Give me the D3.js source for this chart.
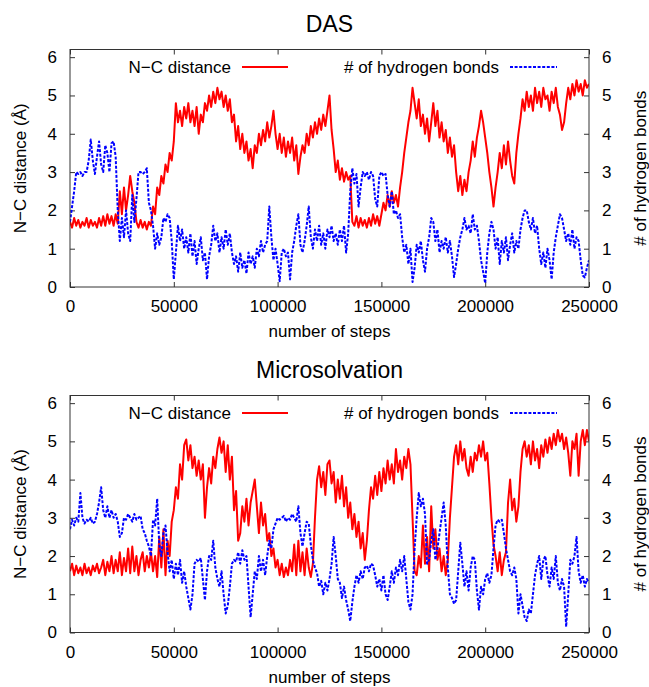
<!DOCTYPE html>
<html>
<head>
<meta charset="utf-8">
<script src="https://cdn.jsdelivr.net/npm/d3@7"></script>
<style>
  html, body { margin: 0; padding: 0; background: #fff; }
  svg { display: block; font-family: "Liberation Sans", Arial, Helvetica, sans-serif; }
</style>
</head>
<body>
<svg id="chart" width="649" height="687"></svg>
<script>
// ---------------- data (sampled every 1000 steps, 0 .. 250000) ----------------
const stepSize = 1000;
const xTicks = [0, 50000, 100000, 150000, 200000, 250000];
const yTicks = [0, 1, 2, 3, 4, 5, 6];
const panelTitles = ["DAS", "Microsolvation"];
const seriesNames = ["N\u2212C distance", "# of hydrogen bonds"];

const dasNC = [
  1.7,1.55,1.8,1.6,1.75,1.55,1.7,1.6,1.8,1.55,
  1.75,1.6,1.7,1.55,1.8,1.6,1.85,1.6,1.9,1.65,
  1.85,1.6,1.9,1.65,2.5,1.9,2.6,2.0,2.4,2.9,
  2.5,2.2,1.7,1.55,1.75,1.55,1.7,1.5,1.7,1.6,
  2.1,1.9,2.6,2.4,2.9,2.7,3.2,3.0,3.5,3.3,
  3.8,4.8,4.3,4.6,4.2,4.7,4.4,4.8,4.3,4.6,
  4.2,4.7,4.0,4.5,4.3,4.8,4.6,5.0,4.7,5.1,
  4.8,5.2,4.9,5.1,4.7,5.0,4.6,4.9,4.3,4.5,
  3.8,4.2,3.6,4.0,3.5,3.8,3.3,3.6,3.1,3.7,
  3.5,4.0,3.7,4.1,3.8,4.3,3.9,4.2,4.6,4.0,
  3.6,4.0,3.5,3.9,3.4,3.8,3.5,3.9,3.3,3.7,
  2.95,3.4,3.7,3.5,4.0,3.7,4.2,3.9,4.3,4.0,
  4.4,4.1,4.5,4.2,4.6,5.0,4.1,3.6,3.0,3.3,
  2.8,3.1,2.75,3.0,2.8,2.9,1.7,1.6,1.85,1.55,
  1.8,1.6,1.75,1.55,1.8,1.6,1.9,1.65,1.85,1.6,
  1.9,2.2,2.0,2.4,2.1,2.5,2.2,2.4,2.1,2.6,
  3.0,3.5,3.9,4.3,4.6,5.2,4.8,4.4,4.9,4.2,
  4.5,4.0,4.4,3.8,4.3,4.8,4.2,4.6,3.9,4.3,
  3.8,4.1,3.5,3.9,3.4,3.7,3.0,2.5,2.9,2.4,
  2.8,2.5,3.0,3.3,3.8,3.4,3.9,4.2,4.6,4.3,
  3.9,3.5,3.0,2.6,2.1,2.6,3.0,3.5,3.1,3.7,
  3.2,3.8,3.3,2.9,2.7,3.5,4.0,4.4,4.9,4.6,
  5.1,4.7,5.0,4.6,5.2,4.8,5.1,4.7,5.2,4.9,
  5.0,4.6,5.1,4.8,5.2,4.7,4.5,4.1,4.3,4.8,
  5.2,4.9,5.3,5.0,5.4,5.1,5.3,5.0,5.4,5.2,
  5.3
];

const dasHB = [
  1.7,2.1,2.5,3.0,2.95,3.0,2.9,3.0,3.0,3.3,
  3.85,3.3,2.95,3.4,3.8,3.2,3.0,3.7,3.5,3.0,
  3.75,3.8,3.4,2.0,1.2,1.8,1.3,2.0,1.4,1.2,
  2.4,1.7,2.3,3.0,3.0,2.95,3.0,3.1,2.2,2.0,
  1.6,1.0,1.4,1.1,1.3,1.8,1.7,1.9,1.8,1.2,
  0.2,0.9,1.6,1.2,1.5,1.0,1.3,0.9,1.4,0.8,
  1.2,0.6,1.0,1.3,0.7,0.9,0.2,0.8,1.1,1.6,
  1.2,1.4,0.9,1.3,1.0,1.5,1.1,1.4,0.9,0.6,
  0.8,0.4,0.9,0.5,0.7,0.35,0.9,0.6,0.8,0.5,
  1.0,0.8,1.2,0.9,1.1,1.2,2.1,1.3,0.7,1.0,
  0.6,0.15,0.9,1.0,0.8,0.9,0.2,0.9,1.2,1.6,
  1.9,1.1,0.9,1.2,1.6,2.1,1.3,1.0,1.5,1.2,
  1.6,1.1,1.4,1.0,1.5,1.3,1.6,1.2,1.4,1.1,
  1.5,1.2,1.6,0.9,1.4,2.5,3.1,2.7,2.95,2.1,
  2.6,3.0,2.9,3.0,2.8,3.0,2.9,2.3,2.1,2.9,
  3.0,2.9,2.95,2.4,2.1,2.5,1.9,2.0,1.8,1.9,
  1.3,0.9,1.1,0.6,1.0,0.13,0.5,1.1,0.9,1.2,
  0.7,0.4,1.0,1.3,1.8,1.7,1.2,1.5,0.9,1.2,
  1.0,1.3,0.9,1.2,0.8,0.26,0.6,1.0,1.3,1.5,
  1.8,1.5,1.6,1.4,1.9,1.5,1.6,1.2,0.7,0.4,
  0.1,0.9,1.4,1.7,1.5,1.0,1.3,0.6,1.2,0.9,
  1.3,0.7,1.1,1.4,0.9,1.2,1.0,1.5,1.8,2.0,
  2.0,1.7,1.5,1.8,1.4,1.6,1.0,0.6,0.9,0.5,
  1.0,0.7,0.2,0.9,1.3,1.6,1.9,1.8,1.5,1.2,
  1.4,1.1,1.5,1.0,1.3,1.2,0.7,0.3,0.25,0.5,
  0.7
];

const microNC = [
  1.6,1.8,1.5,1.75,1.55,1.7,1.5,1.8,1.55,1.7,
  1.5,1.75,1.6,1.8,1.55,1.7,1.9,1.5,1.85,1.6,
  2.0,1.55,1.9,1.6,2.1,1.5,1.95,1.6,2.2,1.55,
  2.25,1.6,2.0,1.5,1.9,2.1,1.6,2.0,1.7,2.1,
  1.6,2.0,1.45,2.5,1.7,2.7,1.5,2.4,2.0,2.9,
  3.2,3.8,3.5,4.4,4.0,4.9,5.05,4.5,4.9,4.3,
  4.6,4.1,4.5,4.0,4.4,3.0,3.8,4.3,3.9,4.6,
  4.3,4.8,5.1,4.7,5.0,4.2,4.9,4.0,4.6,3.2,
  3.7,2.4,2.6,3.3,2.9,3.5,2.8,3.4,3.7,4.0,
  3.3,2.6,3.4,2.8,3.1,2.4,2.6,2.0,2.2,1.7,
  1.9,1.5,1.8,1.45,1.7,1.5,1.9,1.6,2.3,1.5,
  2.4,1.6,2.1,1.5,2.2,1.7,1.45,1.8,3.0,4.0,
  4.35,3.8,4.2,3.6,4.4,4.5,3.9,4.2,3.4,4.0,
  3.5,4.1,3.3,3.8,3.0,3.4,2.7,3.1,2.5,2.9,
  2.2,2.6,1.9,2.4,3.2,3.8,3.5,4.1,3.6,4.2,
  3.7,4.3,3.9,4.5,4.0,4.4,3.9,4.8,4.2,4.5,
  4.0,4.6,4.3,4.8,4.4,3.0,1.6,1.5,2.0,1.7,
  2.8,1.8,2.5,1.6,3.3,2.2,2.7,1.9,2.2,1.6,
  2.0,1.5,1.9,3.0,3.8,4.6,4.9,4.4,5.0,4.5,
  4.8,4.3,4.1,4.6,4.2,4.7,4.5,4.9,4.6,5.0,
  4.5,4.7,3.9,3.0,2.3,2.0,1.6,2.1,1.5,1.9,
  2.1,3.4,4.0,3.2,3.5,2.9,3.3,4.2,4.8,5.0,
  4.6,4.9,4.4,5.0,4.5,4.8,4.3,4.9,4.6,5.05,
  4.7,5.1,4.8,5.2,4.9,5.3,5.0,5.2,4.8,5.1,
  4.7,4.1,5.0,4.8,5.2,4.1,5.0,5.3,4.9,5.3,
  5.0
];

const microHB = [
  2.7,2.95,2.8,3.0,2.9,3.65,3.0,2.85,2.95,2.9,
  3.0,2.85,2.9,3.1,3.4,3.8,3.2,3.0,3.3,3.0,
  3.2,3.0,3.1,2.9,2.5,2.6,3.0,2.95,3.1,3.0,
  2.9,3.1,2.95,3.0,3.05,2.7,2.6,2.4,2.25,2.0,
  2.95,2.8,3.5,2.3,2.0,2.6,2.8,2.1,1.6,1.9,
  1.4,1.8,1.5,1.9,1.3,1.6,1.2,0.9,0.6,1.0,
  1.8,1.9,1.85,1.95,1.4,0.85,1.6,2.0,1.9,2.4,
  1.7,1.4,1.2,1.6,1.0,0.5,0.7,1.2,1.8,1.9,
  1.85,2.1,1.8,2.15,1.9,2.0,1.2,0.4,1.0,1.6,
  1.4,2.0,1.6,1.9,1.5,2.0,2.4,2.2,2.7,2.85,
  3.0,2.95,3.0,3.05,2.9,3.0,2.95,3.1,3.0,2.9,
  3.3,2.6,2.25,2.6,2.9,2.85,2.3,1.9,1.7,1.55,
  1.2,1.35,1.0,1.3,1.1,1.4,1.8,2.5,2.0,1.4,
  1.3,0.9,1.2,0.85,0.6,0.3,0.8,1.2,1.5,1.3,
  1.6,1.4,1.7,1.75,1.6,1.8,1.75,1.5,1.2,1.4,
  1.1,1.5,1.0,0.85,1.2,1.6,1.3,1.7,1.5,1.9,
  1.6,2.0,1.4,0.8,0.6,1.0,2.2,3.0,3.65,3.3,
  3.5,3.1,1.8,1.9,2.4,2.7,1.9,2.2,2.6,3.0,
  3.4,2.8,1.7,1.0,0.9,0.75,0.85,1.6,2.35,1.8,
  1.2,1.6,1.1,1.7,2.0,1.9,1.1,0.6,1.2,1.0,
  1.4,1.55,1.3,1.5,2.2,2.8,2.95,2.9,2.95,2.6,
  2.2,1.9,1.6,1.5,1.7,1.4,0.5,1.0,0.7,0.4,
  0.3,0.6,0.5,1.0,1.5,1.8,2.0,1.4,1.9,2.0,
  1.5,1.2,1.7,1.4,2.0,1.3,1.1,1.4,1.2,0.15,
  1.0,1.9,1.8,2.0,2.5,1.6,1.3,1.5,1.2,1.4,
  1.3
];

// ---------------- drawing ----------------
const svg = d3.select("#chart");
const left = 70, right = 589;
const panels = [
  { title: panelTitles[0], top: 49.5, bottom: 287, nc: dasNC, hb: dasHB },
  { title: panelTitles[1], top: 395.5, bottom: 632.5, nc: microNC, hb: microHB }
];

const x = d3.scaleLinear().domain([0, 250000]).range([left, right]);
const fs = 17;
const axisColor = "#333";
const red = "#ff0000";
const blue = "#0000ff";

panels.forEach((p, pi) => {
  const y = d3.scaleLinear().domain([0, 6.2]).range([p.bottom, p.top]);
  const y2 = d3.scaleLinear().domain([0, 6.2]).range([p.bottom, p.top]);
  const g = svg.append("g");

  const clipId = "clip" + pi;
  svg.append("defs").append("clipPath").attr("id", clipId)
    .append("rect").attr("x", left).attr("y", p.top).attr("width", right - left).attr("height", p.bottom - p.top);

  // axes (ticks inward, mirrored)
  const tl = 5;
  const xb = g.append("g").attr("transform", `translate(0,${p.bottom})`)
    .call(d3.axisBottom(x).tickValues(xTicks).tickSize(-tl).tickPadding(tl + 8).tickFormat(d3.format("d")));
  const xt = g.append("g").attr("transform", `translate(0,${p.top})`)
    .call(d3.axisTop(x).tickValues(xTicks).tickSize(-tl).tickFormat(""));
  const yl = g.append("g").attr("transform", `translate(${left},0)`)
    .call(d3.axisLeft(y).tickValues(yTicks).tickSize(-tl).tickPadding(tl + 8).tickFormat(d3.format("d")));
  const yr = g.append("g").attr("transform", `translate(${right},0)`)
    .call(d3.axisRight(y2).tickValues(yTicks).tickSize(-tl).tickPadding(tl + 8).tickFormat(d3.format("d")));
  [xb, xt, yl, yr].forEach(a => {
    a.select(".domain").remove();
    a.selectAll(".tick line").attr("stroke", axisColor).attr("stroke-width", 1);
    a.selectAll(".tick text").attr("font-size", fs).attr("fill", "#000")
      .attr("font-family", '"Liberation Sans", Arial, sans-serif');
  });
  xb.selectAll(".tick text").attr("dy", "0.71em");

  // series lines
  const line = d3.line().x((d, i) => x(i * stepSize)).y(d => y(d));
  const line2 = d3.line().x((d, i) => x(i * stepSize)).y(d => y2(d));
  g.append("path").datum(p.nc).attr("clip-path", `url(#${clipId})`)
    .attr("fill", "none").attr("stroke", red).attr("stroke-width", 2)
    .attr("stroke-linejoin", "round").attr("d", line);
  g.append("path").datum(p.hb).attr("clip-path", `url(#${clipId})`)
    .attr("fill", "none").attr("stroke", blue).attr("stroke-width", 2)
    .attr("stroke-dasharray", "3,1.6").attr("stroke-linejoin", "round").attr("d", line2);

  // border
  g.append("rect").attr("x", left).attr("y", p.top).attr("width", right - left).attr("height", p.bottom - p.top)
    .attr("fill", "none").attr("stroke", axisColor).attr("stroke-width", 1);

  // title
  g.append("text").attr("x", (left + right) / 2).attr("y", p.top - 18)
    .attr("text-anchor", "middle").attr("font-size", 23).text(p.title);

  // x axis label
  g.append("text").attr("x", (left + right) / 2).attr("y", p.bottom + 50)
    .attr("text-anchor", "middle").attr("font-size", fs).text("number of steps");

  // y labels
  const cy = (p.top + p.bottom) / 2;
  g.append("text").attr("transform", `translate(${26},${cy}) rotate(-90)`)
    .attr("text-anchor", "middle").attr("font-size", fs).text("N\u2212C distance (\u00C5)");
  g.append("text").attr("transform", `translate(${646},${cy}) rotate(-90)`)
    .attr("text-anchor", "middle").attr("font-size", fs).text("# of hydrogen bonds");

  // legend
  const ly = p.top + 17.5;
  g.append("text").attr("x", 231).attr("y", ly).attr("dy", "0.35em")
    .attr("text-anchor", "end").attr("font-size", fs).text(seriesNames[0]);
  g.append("line").attr("x1", 242).attr("x2", 288).attr("y1", ly).attr("y2", ly)
    .attr("stroke", red).attr("stroke-width", 2);
  g.append("text").attr("x", 499).attr("y", ly).attr("dy", "0.35em")
    .attr("text-anchor", "end").attr("font-size", fs).text(seriesNames[1]);
  g.append("line").attr("x1", 510).attr("x2", 557).attr("y1", ly).attr("y2", ly)
    .attr("stroke", blue).attr("stroke-width", 2).attr("stroke-dasharray", "3,1.6");
});
</script>
</body>
</html>
